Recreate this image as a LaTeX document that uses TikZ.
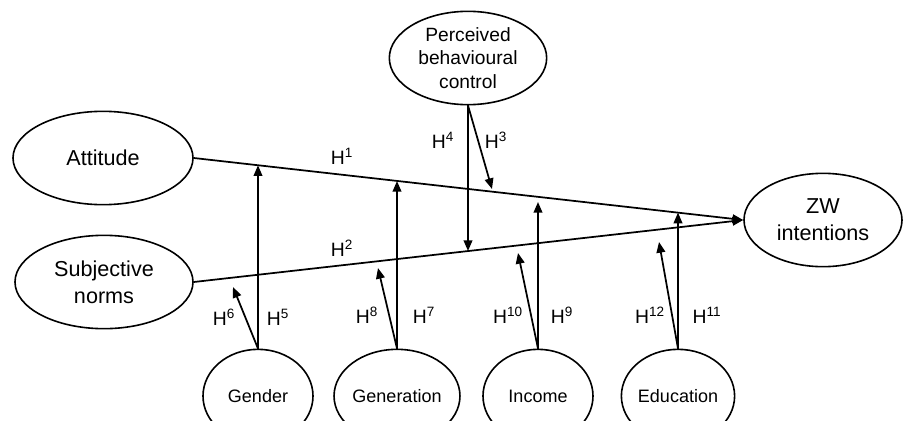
\documentclass[tikz,border=0pt]{standalone}
\usepackage{fontspec}
\setmainfont{Liberation Sans}
\usetikzlibrary{shapes.geometric,arrows.meta}
\begin{document}
\begin{tikzpicture}[x=0.75pt,y=-0.75pt,
  lat/.style={draw,ellipse,line width=1.2pt,inner sep=0pt,align=center,minimum height=70pt,font=\fontsize{16.2}{20}\selectfont},
  pbcfont/.style={font=\fontsize{14.4}{17.5}\selectfont},
  mod/.style={draw,ellipse,line width=1.2pt,inner sep=0pt,align=center,minimum width=82.5pt,minimum height=70pt,font=\fontsize{13.5}{16}\selectfont},
  lnk/.style={line width=1.3pt,-{Triangle[length=8pt,width=6.5pt]}},
  hl/.style={font=\fontsize{14.5}{16}\selectfont,inner sep=0pt}
]
\useasboundingbox (0,0) rectangle (903,421);
\clip (0,0) rectangle (903,421);

% latent constructs
\node[lat,minimum width=135pt] (att) at (103,158) {Attitude};
\node[lat,minimum width=133.5pt] (sn) at (104,282) {Subjective\\norms};
\node[lat,pbcfont,minimum width=118pt] (pbc) at (468,58) {Perceived\\behavioural\\control};
\node[lat,minimum width=118.5pt] (zw) at (823,220) {ZW\\intentions};

% moderators
\node[mod] (gend) at (258,396) {Gender};
\node[mod] (gene) at (397,396) {Generation};
\node[mod] (inc) at (538,396) {Income};
\node[mod] (edu) at (678,396) {Education};

% main paths
\draw[lnk] (att.east) -- (zw.west);
\draw[lnk] (sn.east) -- (zw.west);

% target points of the moderating arrows
\coordinate (gA) at (258,165.3);
\coordinate (gS) at (233,287);
\coordinate (nA) at (397,181);
\coordinate (nS) at (378,268);
\coordinate (iA) at (538,202);
\coordinate (iS) at (518,253);
\coordinate (eA) at (678,212.6);
\coordinate (eS) at (659,242);
\coordinate (pS) at (468,251);
\coordinate (pA) at (492,189);

\draw[lnk] (pbc.south) -- (pS);
\draw[lnk] (pbc.south) -- (pA);
\draw[lnk] (gend.north) -- (gA);
\draw[lnk] (gend.north) -- (gS);
\draw[lnk] (gene.north) -- (nA);
\draw[lnk] (gene.north) -- (nS);
\draw[lnk] (inc.north) -- (iA);
\draw[lnk] (inc.north) -- (iS);
\draw[lnk] (edu.north) -- (eA);
\draw[lnk] (edu.north) -- (eS);

% hypothesis labels
\node[hl] (h1) at (342,156) {H\textsuperscript{1}};
\node[hl] (h2) at (342,248) {H\textsuperscript{2}};
\node[hl] (h4) at (443,140) {H\textsuperscript{4}};
\node[hl] (h3) at (496,140) {H\textsuperscript{3}};
\node[hl] (h6) at (224,317) {H\textsuperscript{6}};
\node[hl] (h5) at (278,317) {H\textsuperscript{5}};
\node[hl] (h8) at (367,315) {H\textsuperscript{8}};
\node[hl] (h7) at (424,315) {H\textsuperscript{7}};
\node[hl] (h10) at (508,315) {H\textsuperscript{10}};
\node[hl] (h9) at (562,315) {H\textsuperscript{9}};
\node[hl] (h12) at (650,315) {H\textsuperscript{12}};
\node[hl] (h11) at (707,315) {H\textsuperscript{11}};
\end{tikzpicture}
\end{document}
